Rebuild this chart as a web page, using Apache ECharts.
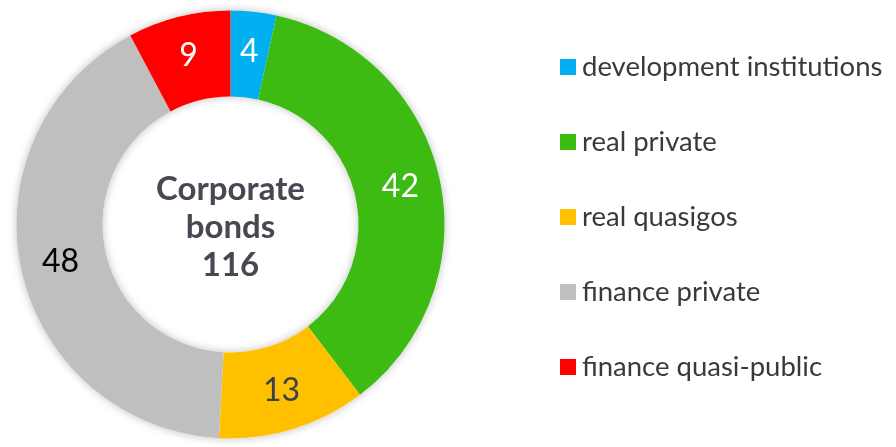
<!DOCTYPE html>
<html>
<head>
<meta charset="utf-8">
<script src="https://cdn.jsdelivr.net/npm/echarts@6/dist/echarts.min.js"></script>
<style>
  html, body { margin: 0; padding: 0; background: #fff; }
  #main { width: 896px; height: 447px; }
</style>
</head>
<body>
<div id="main"></div>
<script>
// categories and values (clockwise from 12 o'clock)
var categories = ['development institutions', 'real private', 'real quasigos', 'finance private', 'finance quasi-public'];
var values = [4, 42, 13, 48, 9];
var colors = ['#00B0F0', '#3DBB12', '#FFC000', '#BFBFBF', '#FF0000'];
var labelColors = ['#ffffff', '#ffffff', '#3d3f4c', '#000000', '#ffffff'];
var centerTitle = ['Corporate', 'bonds'];

var total = values.reduce(function (a, b) { return a + b; }, 0);

var chart = echarts.init(document.getElementById('main'));

var center = [230.5, 224.5];
var radius = [128, 214];

chart.setOption({
    animation: false,
    color: colors,
    legend: {
        orient: 'vertical',
        left: 555,
        top: 47,
        icon: 'rect',
        itemWidth: 16,
        itemHeight: 16,
        itemGap: 45,
        data: categories,
        textStyle: {
            fontFamily: 'Lato',
            fontWeight: 400,
            fontSize: 27.5,
            color: '#3a3a3a',
            lineHeight: 30,
            padding: [0, 0, 0, 1]
        }
    },
    graphic: [{
        type: 'text',
        x: center[0],
        y: center[1] + 3,
        style: {
            text: centerTitle.join('\n') + '\n' + total,
            align: 'center',
            verticalAlign: 'middle',
            fontFamily: 'Lato',
            fontWeight: 'bold',
            fontSize: 33,
            lineHeight: 38,
            fill: '#474851'
        }
    }],
    series: [{
        // shadow ring behind the slices
        type: 'pie',
        silent: true,
        center: center,
        radius: radius,
        label: { show: false },
        itemStyle: {
            color: '#ffffff',
            shadowBlur: 8,
            shadowColor: 'rgba(0,0,0,0.25)'
        },
        data: [{ value: 1, name: '' }],
        z: 1
    }, {
        type: 'pie',
        center: center,
        radius: radius,
        startAngle: 90,
        clockwise: true,
        avoidLabelOverlap: false,
        z: 2,
        label: {
            show: true,
            position: 'inside',
            formatter: '{c}',
            fontFamily: 'Lato',
            fontWeight: 400,
            fontSize: 32
        },
        labelLine: { show: false },
        data: categories.map(function (name, i) {
            return {
                name: name,
                value: values[i],
                label: { color: labelColors[i] }
            };
        })
    }]
});
</script>
</body>
</html>
